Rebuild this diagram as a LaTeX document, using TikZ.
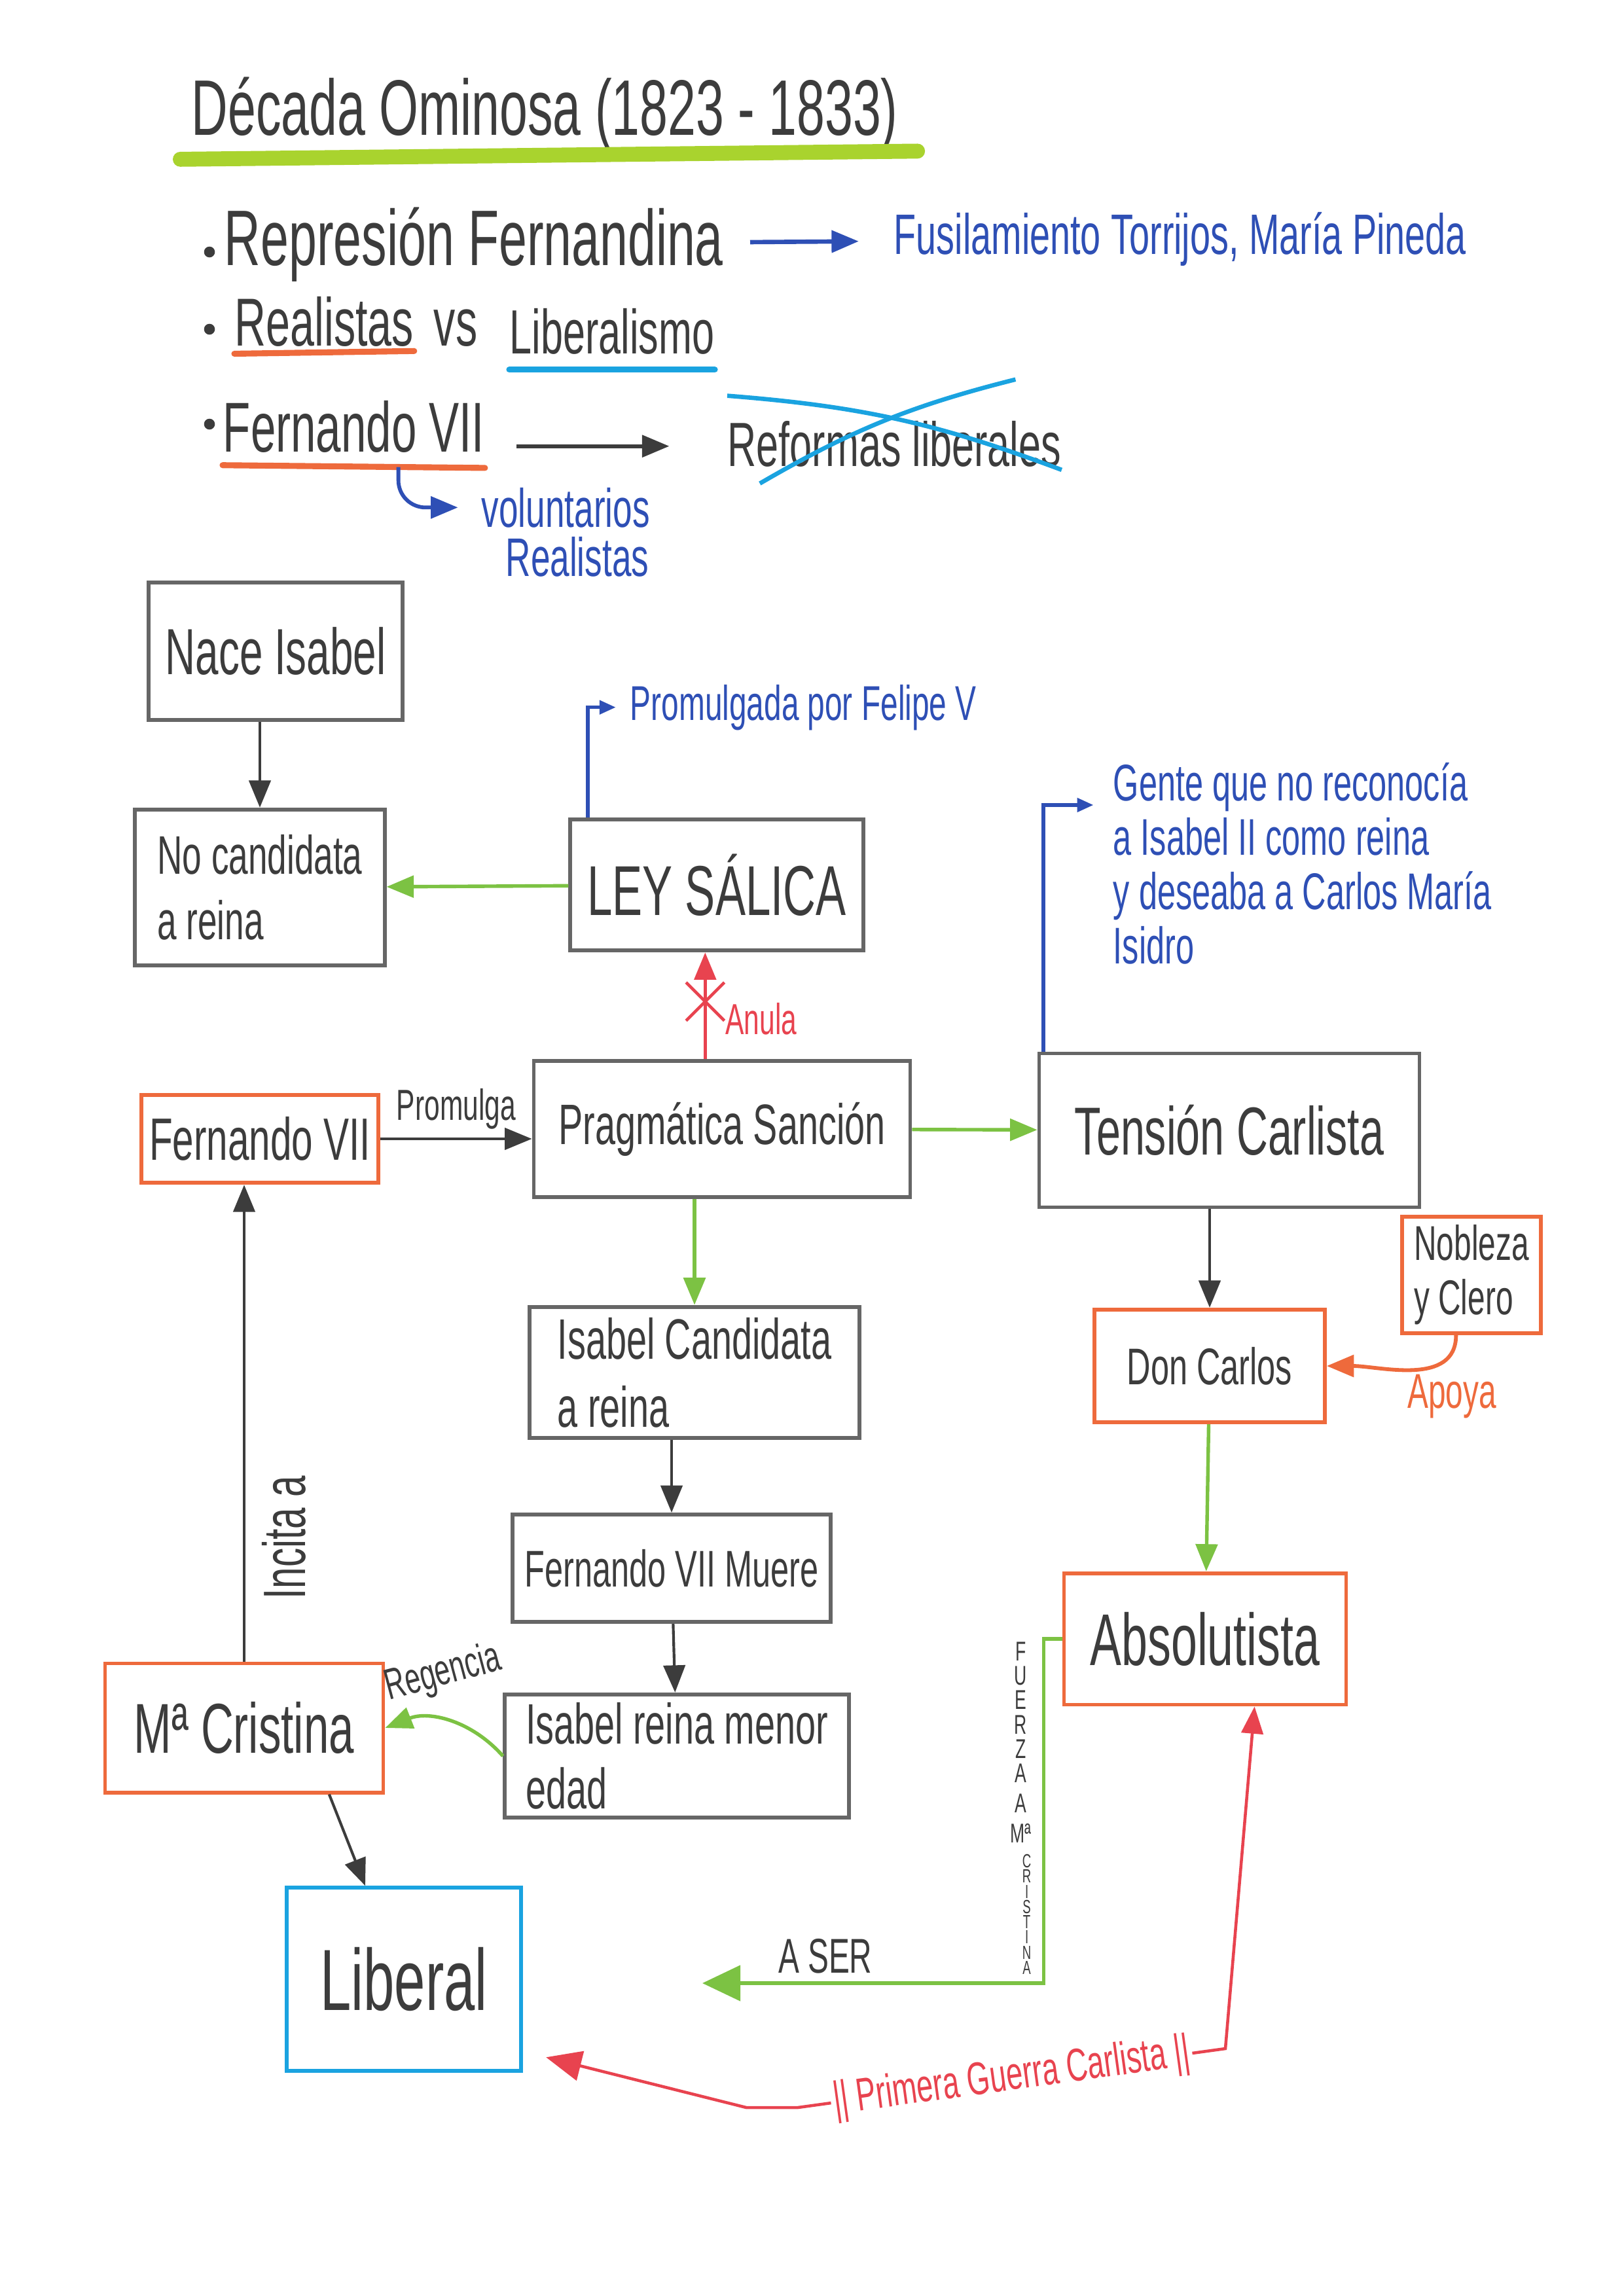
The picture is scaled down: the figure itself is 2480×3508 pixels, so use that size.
\documentclass[tikz,border=0pt]{standalone}
\usepackage{fontspec}
\setmainfont[FakeStretch=0.64]{Liberation Sans}
\usepackage{tikz}
\usetikzlibrary{arrows.meta,shapes.misc}

\definecolor{pencil}{HTML}{3C3C3C}
\definecolor{boxgray}{HTML}{666666}
\definecolor{naranja}{HTML}{EE6A3C}
\definecolor{celeste}{HTML}{1AA3E0}
\definecolor{verde}{HTML}{7CC243}
\definecolor{lima}{HTML}{A9D32E}
\definecolor{azul}{HTML}{2E4FB5}
\definecolor{rojo}{HTML}{E8434F}

\newcommand{\letra}[2]{\fontsize{#1}{#2}\selectfont}

\tikzset{
  caja/.style={draw=boxgray, line width=1.4pt, text=pencil, align=center, inner sep=3pt},
  cajanar/.style={caja, draw=naranja},
  cajacel/.style={caja, draw=celeste},
  texto/.style={inner sep=0pt, text=pencil},
  nota/.style={inner sep=0pt, text=azul},
  raya/.style={line width=2.2pt, line cap=round},
  bala/.style={circle, fill=pencil, inner sep=0pt, minimum size=4pt},
}

\begin{document}
\begin{tikzpicture}[x=0.008468cm, y=-0.008468cm, >={Triangle[length=10pt,width=8pt]}]
\useasboundingbox (0,0) rectangle (2480,3508);

\node[texto, anchor=base west, font={\letra{29}{32}}] (titulo) at (292,206) {Década Ominosa (1823 - 1833)};
\draw[lima, line width=5.5pt, line cap=round] ([xshift=-4pt,yshift=-9pt]titulo.base west) -- ([xshift=7pt,yshift=-6pt]titulo.base east);

% lista
\node[bala] (p1) at (320,385) {};
\node[texto, anchor=base west, font={\letra{29}{31}}] (represion) at (342,405) {Represión Fernandina};
\node[nota, anchor=base west, font={\letra{21}{23}}] (fusil) at (1365,388) {Fusilamiento Torrijos, María Pineda};
\draw[azul, ->, line width=1.6pt, shorten <=0.34cm, shorten >=0.45cm] (represion) -- (fusil);

\node[bala] (p2) at (320,503) {};
\node[texto, anchor=base west, font={\letra{25}{27}}] (realistas) at (358,528) {Realistas};
\node[texto, anchor=base west, font={\letra{25}{27}}] (vs) at (662,528) {vs};
\node[texto, anchor=base west, font={\letra{23}{25}}] (liberalismo) at (778,540) {Liberalismo};
\draw[naranja, raya] ([yshift=-3pt]realistas.base west) -- ([yshift=-2pt]realistas.base east);
\draw[celeste, raya] ([yshift=-6pt]liberalismo.base west) -- ([yshift=-6pt]liberalismo.base east);

\node[bala] (p3) at (320,648) {};
\node[texto, anchor=base west, font={\letra{26}{28}}] (fernando) at (340,690) {Fernando VII};
\draw[naranja, raya] ([yshift=-5pt]fernando.base west) -- coordinate[pos=0.67] (gancho) ([yshift=-6pt]fernando.base east);

\node[texto, anchor=base west, font={\letra{23}{25}}] (reformas) at (1111,712) {Reformas liberales};
\draw[pencil, ->, line width=1.4pt, shorten <=0.41cm, shorten >=0.75cm] ([yshift=2pt]fernando.base east) -- ([yshift=2pt]fernando.base east -| reformas.west);
\draw[celeste, line width=1.6pt] ([yshift=9pt]reformas.north west) to[bend left=8] ([yshift=-1pt]reformas.south east);
\draw[celeste, line width=1.6pt] ([xshift=12pt,yshift=-6pt]reformas.south west) to[bend left=8] ([xshift=-17pt,yshift=15pt]reformas.north east);

\node[nota, anchor=base west, font={\letra{20}{22}}] (vol1) at (735,805) {voluntarios};
\node[nota, anchor=base east, font={\letra{20}{22}}] (vol2) at (992,880) {Realistas};
\draw[azul, ->, line width=1.4pt, rounded corners=10pt, shorten >=0.3cm] (gancho) |- (vol1.west);

% mapa
\node[caja, minimum width=3.28cm, minimum height=1.78cm, font={\letra{24}{26}}] (nace) at (421,995) {Nace Isabel};
\node[caja, minimum width=3.23cm, minimum height=2.02cm, align=left, font={\letra{20}{24}}] (nocand) at (397,1356) {No candidata\\a reina};
\node[caja, minimum width=3.79cm, minimum height=1.70cm, font={\letra{26}{28}}] (ley) at (1095,1352) {LEY SÁLICA};
\node[nota, anchor=base west, font={\letra{18}{20}}] (felipe) at (962,1100) {Promulgada por Felipe V};
\node[cajanar, minimum width=3.05cm, minimum height=1.14cm, font={\letra{22}{24}}] (fer) at (397,1740) {Fernando VII};
\node[caja, minimum width=4.87cm, minimum height=1.76cm, font={\letra{21}{23}}] (prag) at (1103,1725) {Pragmática Sanción};
\node[caja, minimum width=4.92cm, minimum height=1.99cm, font={\letra{25}{27}}] (tension) at (1878,1727) {Tensión Carlista};
\node[nota, anchor=north west, align=left, font={\letra{19}{20}}] (gente) at (1700,1165) {Gente que no reconocía\\a Isabel II como reina\\y deseaba a Carlos María\\Isidro};
\node[caja, minimum width=4.27cm, minimum height=1.70cm, align=left, font={\letra{21}{25}}] (isacand) at (1061,2097) {Isabel Candidata\\a reina};
\node[caja, minimum width=4.12cm, minimum height=1.39cm, font={\letra{19}{21}}] (muere) at (1026,2396) {Fernando VII Muere};
\node[caja, minimum width=4.45cm, minimum height=1.52cm, align=left, font={\letra{21}{24}}] (menor) at (1034,2683) {Isabel reina menor\\edad};
\node[cajanar, minimum width=3.60cm, minimum height=1.67cm, font={\letra{26}{28}}] (cristina) at (373,2640) {Mª Cristina};
\node[cajacel, minimum width=3.03cm, minimum height=2.37cm, font={\letra{32}{34}}] (liberal) at (617,3024) {Liberal};
\node[cajanar, minimum width=2.98cm, minimum height=1.46cm, font={\letra{19}{21}}] (carlos) at (1848,2087) {Don Carlos};
\node[cajanar, minimum width=1.80cm, minimum height=1.19cm, align=left, font={\letra{18}{20}}] (nobleza) at (2248,1948) {Nobleza\\y Clero};
\node[cajanar, minimum width=3.65cm, minimum height=1.70cm, font={\letra{27}{29}}] (absol) at (1841,2504) {Absolutista};
\coordinate (aser) at (1073,3030);
\coordinate (guerraA) at (1872,3130);
\coordinate (guerraB) at (1219,3220);
\coordinate (guerraC) at (1140,3220);

\path[->, pencil, line width=1pt]
  (nace.south -| nocand.north) edge (nocand.north)
  (fer.east) edge node[above=3pt, texto, font={\letra{16}{18}}] (promulga) {Promulga} (prag.west |- fer.east)
  (isacand.south -| muere.north) edge (muere.north)
  (muere) edge (menor)
  (cristina.north) edge node[pos=0.26, rotate=90, anchor=north, texto, inner sep=6pt, font={\letra{22}{24}}] (incita) {Incita a} (cristina.north |- fer.south)
  ([xshift=1.1cm]cristina.south) edge ([xshift=-0.5cm]liberal.north)
  (tension.south -| carlos.north) edge (carlos.north);

\path[->, verde, line width=1.3pt]
  (ley) edge (nocand)
  (prag) edge (tension)
  (prag.south -| isacand.north) edge (isacand.north)
  (carlos) edge (absol)
  (menor.west) edge[bend right=35] node[above=10pt, rotate=15, texto, font={\letra{16}{18}}] (regencia) {Regencia} (cristina.east);

\draw[-{Triangle[length=14pt,width=13pt]}, verde, line width=1.3pt] (absol.west) -- ++(-28,0) |- node[pos=0.15, left=4pt, texto, align=center, font={\letra{10}{9}}] (fuerza) {F\\U\\E\\R\\Z\\A\\[2pt]A\\[2pt]Mª} node[pos=0.40, left=4pt, texto, align=center, font={\letra{7}{5.6}}] (cristxt) {C\\R\\I\\S\\T\\I\\N\\A} node[pos=0.82, above=3pt, texto, font={\letra{18}{20}}] (asertxt) {A SER} (aser);

\draw[rojo, line width=1.1pt, ->] ([xshift=-0.15cm]prag.north -| ley.south) -- node[pos=0.54, cross out, draw, minimum size=13pt, inner sep=0pt] (cruz) {} node[pos=0.38, right=7pt, text=rojo, inner sep=0pt, font={\letra{16}{18}}] (anula) {Anula} ([xshift=-0.15cm]ley.south);

\draw[rojo, line width=1.1pt, {Triangle[length=10pt,width=8pt]}-{Triangle[length=13pt,width=11pt]}] ([xshift=0.64cm]absol.south) -- (guerraA) -- node[sloped, fill=white, inner sep=1pt, text=rojo, font={\letra{17}{19}}] (guerra) {|| Primera Guerra Carlista ||} (guerraB) -- (guerraC) -- ([xshift=0.3cm,yshift=0.2cm]liberal.south east);

\draw[azul, line width=1.3pt, -{Triangle[length=6pt,width=5pt]}, shorten >=0.18cm] ([xshift=0.25cm]ley.north west) |- (felipe.west);
\draw[azul, line width=1.3pt, -{Triangle[length=6pt,width=5pt]}, shorten >=0.25cm] ([xshift=0.08cm]tension.north west) |- ([yshift=-0.55cm]gente.north west);

\draw[naranja, line width=1.4pt, ->] ([xshift=-0.2cm]nobleza.south) to[out=-90, in=0] node[pos=0.55, below right=1pt, inner sep=0pt, text=naranja, font={\letra{18}{20}}] (apoya) {Apoya} (carlos.east);

\end{tikzpicture}
\end{document}
